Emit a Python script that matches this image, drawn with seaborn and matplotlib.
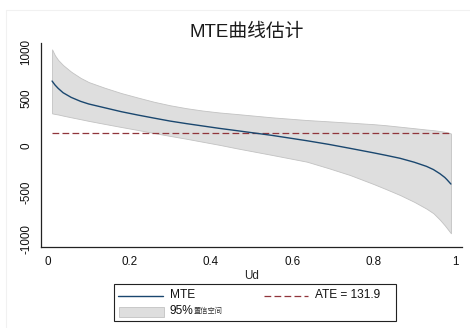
import matplotlib
matplotlib.use("Agg")
import matplotlib.pyplot as plt
import matplotlib.transforms as mtransforms
from matplotlib.lines import Line2D
from matplotlib.patches import Rectangle
import numpy as np
import pandas as pd
import seaborn as sns

# Unobserved resistance Ud and the estimated marginal treatment effect
ud = [0.01, 0.017, 0.025, 0.037, 0.057, 0.08, 0.10, 0.139, 0.18, 0.221, 0.26,
      0.30, 0.34, 0.38, 0.42, 0.464, 0.55, 0.636, 0.69, 0.742, 0.80, 0.83,
      0.865, 0.90, 0.93, 0.947, 0.963, 0.975, 0.98, 0.99]
mte = [686, 645, 608, 562, 512, 470, 442, 402, 360, 324, 292,
       260, 233, 208, 183, 158, 108, 51, 12, -30, -78, -104,
       -136, -178, -222, -256, -300, -340, -362, -410]
ci_upper = [1023, 960, 910, 856, 785, 720, 675, 615, 558, 510, 466,
            428, 397, 372, 352, 335, 300, 271, 257, 243, 227, 216,
            200, 184, 170, 163, 154, 146, 141, 128]
ci_lower = [342, 336, 330, 318, 300, 280, 262, 230, 197, 165, 133,
            102, 72, 40, 8, -30, -100, -172, -242, -314, -410, -463,
            -527, -600, -672, -721, -790, -850, -878, -934]
ate = 131.9

x_ticks = [0, 0.2, 0.4, 0.6, 0.8, 1]
x_tick_labels = ["0", "0.2", "0.4", "0.6", "0.8", "1"]
y_ticks = [-1000, -500, 0, 500, 1000]
y_tick_labels = ["-1000", "-500", "0", "500", "1000"]

title = "MTE曲线估计"
x_label = "Ud"
mte_label = "MTE"
ate_label = f"ATE = {ate:.1f}"
ci_label = "95%"
ci_label_cn = "置信空间"

df = pd.DataFrame({"Ud": ud, "MTE": mte, "upper": ci_upper, "lower": ci_lower})
df["ATE"] = ate

sns.set_theme(style="white")
plt.rcParams["font.family"] = ["Liberation Sans", "Noto Sans CJK SC", "DejaVu Sans"]

W, H = 470, 328
fig = plt.figure(figsize=(W / 100, H / 100), dpi=100)
fig.patch.set_facecolor("white")

# pixel-based transform (origin top-left) for the frame and legend
px = mtransforms.Affine2D().scale(1 / W, -1 / H).translate(0, 1) + fig.transFigure

ax = fig.add_axes([41 / W, 1 - 247 / H, (461.7 - 41) / W, (247 - 42.7) / H])
ax.set_facecolor("white")

navy = "#1a476f"
maroon = "#90353b"
band_fill = "#dedede"
band_edge = "#c2c2c2"

ax.fill_between(df["Ud"], df["lower"], df["upper"], facecolor=band_fill,
                edgecolor=band_edge, linewidth=0.6, zorder=1)
sns.lineplot(data=df, x="Ud", y="ATE", ax=ax, color=maroon, linewidth=0.9,
             dashes=False, zorder=2, legend=False)
ax.lines[-1].set_dashes((5.4, 2.6))
sns.lineplot(data=df, x="Ud", y="MTE", ax=ax, color=navy, linewidth=1.0,
             zorder=3, legend=False)

ax.set_xlim(-0.0172, 1.0165)
ax.set_ylim(-1080, 1094)
ax.set_xticks(x_ticks)
ax.set_xticklabels(x_tick_labels)
ax.set_yticks(y_ticks)
ax.set_yticklabels(y_tick_labels, rotation=90, va="center")
ax.set_ylabel("")
ax.set_xlabel(x_label, fontsize=8.4, labelpad=1.5)

for side in ("top", "right"):
    ax.spines[side].set_visible(False)
for side in ("left", "bottom"):
    ax.spines[side].set_color("#222222")
    ax.spines[side].set_linewidth(0.9)
ax.tick_params(axis="both", direction="out", length=3.6, width=0.8,
               color="#222222", labelsize=8.4, labelcolor="#111111")
ax.tick_params(axis="x", pad=3.0)
ax.tick_params(axis="y", pad=2.5)
ax.grid(False)

fig.text(247 / W, 1 - 32 / H, title, ha="center", va="center",
         fontsize=13.5, color="#1a1a1a")

# faint outer frame of the graph region
fig.add_artist(Line2D([6, 470], [10, 10], transform=px, color="#f1f1f1", lw=0.8))
fig.add_artist(Line2D([6, 6], [10, 328], transform=px, color="#f1f1f1", lw=0.8))

# legend box
fig.add_artist(Rectangle((113.5, 283.5), 282, 37.5, transform=px,
                         facecolor="white", edgecolor="#222222", lw=0.8))
fig.add_artist(Line2D([118, 163], [295.5, 295.5], transform=px,
                      color=navy, lw=1.0))
fig.add_artist(Line2D([264, 308], [295.5, 295.5], transform=px,
                      color=maroon, lw=0.9, dashes=(5.4, 2.6)))
fig.add_artist(Rectangle((118.5, 306.5), 45, 10, transform=px,
                         facecolor=band_fill, edgecolor=band_edge, lw=0.6))
fig.text(170 / W, 1 - 295.5 / H, mte_label, ha="left", va="center",
         fontsize=8.6, color="#111111")
fig.text(315 / W, 1 - 295.5 / H, ate_label, ha="left", va="center",
         fontsize=8.6, color="#111111")
fig.text(170 / W, 1 - 311.5 / H, ci_label, ha="left", va="center",
         fontsize=8.6, color="#111111")
fig.text(194 / W, 1 - 311.5 / H, ci_label_cn, ha="left", va="center",
         fontsize=5.2, color="#333333")

fig.savefig("out.png", dpi=100, facecolor="white")
